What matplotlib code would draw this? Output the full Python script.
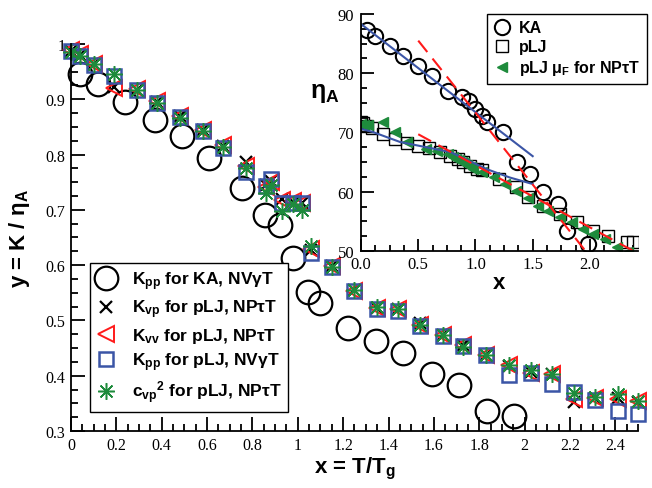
import matplotlib
matplotlib.use("Agg")
import matplotlib.pyplot as plt
from matplotlib.ticker import MultipleLocator, AutoMinorLocator, FuncFormatter

# ---- main panel: y = K / eta_A vs x = T/Tg ----
x_ka = [0.04, 0.12, 0.24, 0.37, 0.49, 0.61, 0.755, 0.855, 0.92, 0.98, 1.045, 1.10,
        1.22, 1.345, 1.465, 1.59, 1.71, 1.835, 1.955]
kpp_ka = [0.946, 0.928, 0.895, 0.862, 0.834, 0.794, 0.739, 0.690, 0.672, 0.613, 0.551,
          0.531, 0.487, 0.462, 0.441, 0.403, 0.384, 0.336, 0.327]

x_plj = [0.00, 0.04, 0.10, 0.19, 0.29, 0.38, 0.48, 0.58, 0.67, 0.77, 0.86, 0.88, 0.93,
         0.98, 1.02, 1.06, 1.15, 1.25, 1.35, 1.44, 1.54, 1.64, 1.73, 1.83, 1.93, 2.03,
         2.12, 2.22, 2.31, 2.41, 2.50]
kvp_plj = [0.988, 0.980, 0.963, 0.922, 0.917, 0.895, 0.870, 0.845, 0.816, 0.786, 0.745,
           0.752, 0.720, 0.715, 0.712, 0.628, 0.598, 0.555, 0.522, 0.520, 0.495, 0.473,
           0.455, 0.437, 0.418, 0.407, 0.403, 0.352, 0.360, 0.360, 0.352]
kvv_plj = [0.990, 0.982, 0.964, 0.920, 0.918, 0.896, 0.870, 0.845, 0.818, 0.780, 0.742,
           0.750, 0.718, 0.716, 0.713, 0.630, 0.598, 0.553, 0.522, 0.520, 0.492, 0.474,
           0.455, 0.438, 0.420, 0.405, 0.403, 0.358, 0.360, 0.358, 0.354]
kpp_plj = [0.987, 0.978, 0.962, 0.942, 0.917, 0.893, 0.868, 0.843, 0.811, 0.768, 0.743,
           0.756, 0.712, 0.712, 0.712, 0.622, 0.597, 0.553, 0.520, 0.517, 0.490, 0.472,
           0.454, 0.437, 0.401, 0.405, 0.385, 0.370, 0.356, 0.336, 0.331]
cvp2_plj = [0.985, 0.978, 0.963, 0.945, 0.917, 0.893, 0.866, 0.842, 0.814, 0.775, 0.730,
            0.745, 0.698, 0.710, 0.700, 0.635, 0.597, 0.555, 0.524, 0.520, 0.492, 0.473,
            0.452, 0.438, 0.420, 0.410, 0.403, 0.369, 0.362, 0.367, 0.355]

# ---- inset: eta_A vs x ----
ka_x = [0.05, 0.12, 0.25, 0.37, 0.50, 0.62, 0.76, 0.88, 0.94, 1.00, 1.06, 1.10, 1.24,
        1.36, 1.48, 1.59, 1.72, 1.80, 1.98]
ka_eta = [87.3, 86.3, 84.6, 82.9, 81.2, 79.6, 77.0, 76.0, 75.3, 74.0, 72.8, 71.8, 70.1,
          65.0, 63.0, 59.9, 57.9, 53.4, 51.2]
plj_x = [0.00, 0.02, 0.05, 0.10, 0.19, 0.30, 0.40, 0.50, 0.59, 0.69, 0.78, 0.85, 0.89,
         0.95, 1.01, 1.06, 1.21, 1.35, 1.46, 1.59, 1.74, 1.89, 2.03, 2.16, 2.32, 2.38]
plj_eta = [71.8, 71.6, 71.1, 70.8, 69.7, 68.9, 68.2, 67.8, 67.4, 66.7, 66.0, 65.5, 65.0,
           64.4, 63.8, 63.6, 62.2, 60.8, 59.1, 57.6, 56.2, 54.9, 53.4, 52.5, 51.5, 51.5]
mu_x = [0.00, 0.03, 0.06, 0.19, 0.30, 0.40, 0.57, 0.66, 0.76, 0.80, 0.83, 0.86, 0.88,
        0.90, 0.93, 0.96, 0.98, 1.06, 1.16, 1.26, 1.35, 1.46, 1.55, 1.63, 1.74, 1.84,
        1.94, 2.03, 2.13, 2.24, 2.33]
mu_eta = [71.4, 71.2, 71.3, 71.8, 70.1, 68.4, 67.2, 66.8, 66.4, 65.9, 65.6, 65.3, 65.1,
          64.8, 64.5, 64.2, 63.8, 63.3, 62.5, 61.3, 60.1, 58.9, 57.6, 56.8, 55.7, 54.9,
          53.7, 52.9, 52.0, 50.7, 49.8]
ka_fit_x = [0.0, 1.5]
ka_fit_eta = [88.3, 66.0]
plj_fit_x = [0.0, 0.1, 0.34, 0.78, 1.1, 1.3, 1.5]
plj_fit_eta = [70.6, 70.1, 68.4, 66.7, 63.8, 62.4, 61.3]
ka_lin_x = [0.5, 1.97]
ka_lin_eta = [85.5, 49.8]
plj_lin_x = [0.5, 2.38]
plj_lin_eta = [69.7, 50.0]

blue = "#3b55a6"
green = "#1e8b3c"
red = "#ff1a1a"

plt.rcParams["mathtext.fontset"] = "custom"
plt.rcParams["mathtext.rm"] = "Liberation Sans:bold"
plt.rcParams["mathtext.it"] = "Liberation Sans:bold"
plt.rcParams["mathtext.bf"] = "Liberation Sans:bold"

sans = {"family": "Liberation Sans", "weight": "bold"}
serif = "Liberation Serif"


def fmt(v, pos):
    return f"{v:g}"


fig = plt.figure(figsize=(6.52, 4.89), dpi=100)
ax = fig.add_axes([0.1089, 0.1166, 0.8696, 0.7914])

ax.plot(x_ka, kpp_ka, "o", ms=17, mfc="none", mec="black", mew=1.6, clip_on=False,
        label=r"K$_{pp}$ for KA, NVγT")
ax.plot(x_plj, kvp_plj, "x", ms=9, color="black", mew=1.6, clip_on=False,
        label=r"K$_{vp}$ for pLJ, NPτT")
ax.plot(x_plj, kvv_plj, "<", ms=11, mfc="none", mec=red, mew=1.4, clip_on=False,
        label=r"K$_{vv}$ for pLJ, NPτT")
ax.plot(x_plj, kpp_plj, "s", ms=10, mfc="none", mec=blue, mew=1.8, clip_on=False,
        label=r"K$_{pp}$ for pLJ, NVγT")
ax.plot(x_plj, cvp2_plj, marker=(8, 2, 0), ls="none", ms=12, color=green, mew=1.1,
        clip_on=False, label=r"c$_{vp}$$^{2}$ for pLJ, NPτT")

ax.set_xlim(0, 2.5)
ax.set_ylim(0.3, 1.0)
ax.xaxis.set_major_locator(MultipleLocator(0.2))
ax.yaxis.set_major_locator(MultipleLocator(0.1))
ax.xaxis.set_minor_locator(AutoMinorLocator(4))
ax.yaxis.set_minor_locator(AutoMinorLocator(4))
ax.xaxis.set_major_formatter(FuncFormatter(fmt))
ax.yaxis.set_major_formatter(FuncFormatter(fmt))
ax.tick_params(which="both", direction="in", top=False, right=False, width=1.3)
ax.tick_params(which="major", length=10, labelsize=11.5, pad=4)
ax.tick_params(which="minor", length=5)
for lab in ax.get_xticklabels() + ax.get_yticklabels():
    lab.set_fontfamily(serif)
ax.spines["top"].set_visible(False)
ax.spines["right"].set_visible(False)
ax.spines["left"].set_linewidth(1.3)
ax.spines["bottom"].set_linewidth(1.3)
ax.set_xlabel(r"x = T/T$_{g}$", fontsize=16, labelpad=2, **sans)
ax.set_ylabel(r"y = K / η$_{A}$", fontsize=16, labelpad=10, **sans)

leg = ax.legend(loc="lower left", bbox_to_anchor=(0.0335, 0.049), borderaxespad=0,
                prop={"family": "Liberation Sans", "weight": "bold", "size": 12.5},
                handlelength=1.0, handletextpad=1.0, labelspacing=0.32,
                fancybox=False, edgecolor="black", framealpha=1)
leg.get_frame().set_linewidth(1.0)

# ---- inset ----
ins = fig.add_axes([0.5537, 0.4847, 0.4248, 0.4847])
ins.patch.set_alpha(0)
ins.plot(ka_x, ka_eta, "o", ms=11, mfc="none", mec="black", mew=1.5, label="KA")
ins.plot(plj_x, plj_eta, "s", ms=8, mfc="none", mec="black", mew=1.0, label="pLJ")
ins.plot(mu_x, mu_eta, "<", ms=6.5, color=green, mec=green, ls="none",
         label=r"pLJ μ$_{F}$ for NPτT")
ins.plot(ka_fit_x, ka_fit_eta, "-", color=blue, lw=1.5)
ins.plot(plj_fit_x, plj_fit_eta, "-", color=blue, lw=1.5)
ins.plot(ka_lin_x, ka_lin_eta, "--", color=red, lw=1.5, dashes=(7, 4))
ins.plot(plj_lin_x, plj_lin_eta, "--", color=red, lw=1.5, dashes=(7, 4))

ins.set_xlim(0, 2.42)
ins.set_ylim(50, 90)
ins.xaxis.set_major_locator(MultipleLocator(0.5))
ins.yaxis.set_major_locator(MultipleLocator(10))
ins.xaxis.set_minor_locator(AutoMinorLocator(4))
ins.yaxis.set_minor_locator(AutoMinorLocator(4))
ins.xaxis.set_major_formatter(FuncFormatter(lambda v, p: f"{v:.1f}"))
ins.tick_params(which="both", direction="in", top=False, right=False, width=1.3)
ins.tick_params(which="major", length=9, labelsize=12)
ins.tick_params(axis="x", pad=3.5)
ins.tick_params(axis="y", pad=5)
ins.tick_params(which="minor", length=4.5)
for lab in ins.get_xticklabels() + ins.get_yticklabels():
    lab.set_fontfamily(serif)
ins.spines["top"].set_visible(False)
ins.spines["right"].set_visible(False)
ins.spines["left"].set_linewidth(1.3)
ins.spines["bottom"].set_linewidth(1.3)
ins.set_xlabel("x", fontsize=16, labelpad=0, **sans)
ins.set_ylabel(r"η$_{A}$", fontsize=18, rotation=0, **sans)
ins.yaxis.set_label_coords(-0.13, 0.62)

ileg = ins.legend(loc="upper right", bbox_to_anchor=(1.032, 1.0), borderaxespad=0,
                  prop={"family": "Liberation Sans", "weight": "bold", "size": 11.5},
                  handlelength=1.0, handletextpad=0.6, labelspacing=0.25,
                  fancybox=False, edgecolor="black", framealpha=1)
ileg.get_frame().set_linewidth(1.0)

fig.savefig("out.png", dpi=100)
